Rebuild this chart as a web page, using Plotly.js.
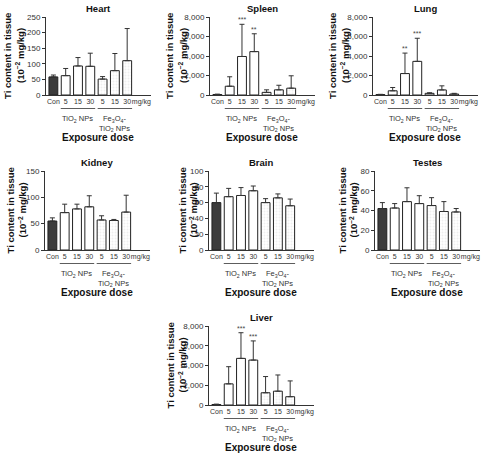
<!DOCTYPE html>
<html><head><meta charset="utf-8">
<script src="https://cdn.plot.ly/plotly-3.0.1.min.js"></script>
<style>html,body{margin:0;padding:0;background:#fff}#c{width:484px;height:453px}</style>
</head><body><div id="c"></div>
<script>
// ---- data ----
const categories = ['Con','5','15','30','5','15','30','mg/kg'];
const organs = ['Heart','Spleen','Lung','Kidney','Brain','Testes','Liver'];
const heartMean  = [58, 62, 93, 92, 51, 78, 110];
const heartSD    = [6, 23, 27, 42, 8, 55, 103];
const spleenMean = [50, 900, 3950, 4450, 270, 530, 700];
const spleenSD   = [40, 970, 3300, 1830, 260, 470, 1270];
const lungMean   = [40, 430, 2200, 3450, 170, 520, 100];
const lungSD     = [30, 340, 2100, 2370, 60, 420, 70];
const kidneyMean = [55, 71, 78, 82, 57, 56, 72];
const kidneySD   = [6, 16, 9, 21, 8, 2, 32];
const brainMean  = [60, 67.5, 69, 75, 60, 66, 56];
const brainSD    = [12, 10.5, 10, 6, 5, 5, 8.5];
const testesMean = [42, 42.5, 49, 47, 45, 39, 38.5];
const testesSD   = [6, 4.5, 14, 8, 8, 10, 3.5];
const liverMean  = [50, 2140, 4720, 4550, 1240, 1400, 840];
const liverSD    = [40, 1740, 2600, 1940, 1640, 1640, 1600];
const noStars     = ['', '', '', '', '', '', ''];
const spleenStars = ['', '', '***', '**', '', '', ''];
const lungStars   = ['', '', '**', '***', '', '', ''];
const liverStars  = ['', '', '***', '***', '', '', ''];
const yMax  = [250, 8000, 8000, 150, 100, 80, 8000];
const yStep = [50, 2000, 2000, 50, 20, 20, 2000];
const groupLabels = ['TiO<sub>2</sub> NPs', 'Fe<sub>3</sub>O<sub>4</sub>-<br>TiO<sub>2</sub> NPs'];

const means = [heartMean, spleenMean, lungMean, kidneyMean, brainMean, testesMean, liverMean];
const sds   = [heartSD, spleenSD, lungSD, kidneySD, brainSD, testesSD, liverSD];
const stars = [noStars, spleenStars, lungStars, noStars, noStars, noStars, liverStars];

// ---- layout geometry (pixels) ----
const W = 484, H = 453;
const pos = [
  {left:46,  top:17,  bottom:95,  t1:8,   t2:20},
  {left:210, top:17,  bottom:95,  t1:170, t2:183},
  {left:373, top:17,  bottom:95,  t1:333, t2:345},
  {left:45,  top:171, bottom:250, t1:10,  t2:22},
  {left:209, top:171, bottom:250, t1:182, t2:193},
  {left:375, top:171, bottom:250, t1:342, t2:353},
  {left:209, top:326, bottom:405, t1:170, t2:182}
];
const XR = [-0.6, 7.9];
const UNIT = 12.3;
const PW = (XR[1] - XR[0]) * UNIT;
const tickPos = [0, 1, 2, 3, 4, 5, 6, 7.15];
const fx = p => p / W;
const fy = p => 1 - p / H;
const FONT = 'Liberation Sans, Arial, sans-serif';

const barColors = ['#3c3c3c','#ffffff','#ffffff','#ffffff','#efefef','#efefef','#efefef'];
const patShapes = ['','','','','.','.','.'];

const data = [];
const layout = {
  width: W, height: H,
  margin: {l:0, r:0, t:0, b:0},
  paper_bgcolor: '#fff', plot_bgcolor: 'rgba(0,0,0,0)',
  showlegend: false,
  font: {family: FONT, size: 8, color: '#333'},
  annotations: [], shapes: []
};

organs.forEach((name, i) => {
  const k = i + 1;
  const xa = 'x' + (k === 1 ? '' : k), ya = 'y' + (k === 1 ? '' : k);
  const p = pos[i];
  const m = means[i], s = sds[i];
  data.push({
    type: 'bar', x: [0,1,2,3,4,5,6], y: m, width: 0.72,
    xaxis: xa, yaxis: ya,
    marker: {color: barColors, line: {color: '#222', width: 1},
      pattern: {shape: patShapes, fgcolor: '#8a8a8a', size: 3, solidity: 0.35}},
    error_y: {type: 'data', symmetric: false, array: s, arrayminus: s.map(() => 0),
      color: '#333', thickness: 1, width: 2.5},
    hoverinfo: 'skip'
  });
  const axKey = 'xaxis' + (k === 1 ? '' : k), ayKey = 'yaxis' + (k === 1 ? '' : k);
  layout[axKey] = {
    domain: [fx(p.left), fx(p.left + PW)], anchor: ya, range: XR,
    tickmode: 'array', tickvals: tickPos, ticktext: categories,
    tickangle: 0, ticklabeloverflow: 'allow',
    showline: true, linecolor: '#333', linewidth: 1, ticks: '', showgrid: false,
    zeroline: false, tickfont: {size: 7, color: '#333'}, fixedrange: true
  };
  layout[ayKey] = {
    domain: [fy(p.bottom), fy(p.top)], anchor: xa, range: [0, yMax[i]],
    tickmode: 'linear', tick0: 0, dtick: yStep[i], tickformat: ',d',
    showline: true, linecolor: '#333', linewidth: 1, ticks: 'outside', ticklen: 3,
    tickcolor: '#333', showgrid: false, zeroline: false,
    tickfont: {size: 8, color: '#333'}, fixedrange: true
  };
  const cx = fx(p.left + 52);
  // panel title
  layout.annotations.push({xref: 'paper', yref: 'paper', x: cx, y: fy(p.top - 8.5),
    text: '<b>' + name + '</b>', showarrow: false, xanchor: 'center', yanchor: 'middle',
    font: {size: 9.5, color: '#111'}});
  // y titles
  layout.annotations.push({xref: 'paper', yref: 'paper', x: fx(p.t1), y: fy((p.top + p.bottom) / 2),
    text: '<b>Ti content in tissue</b>', textangle: -90, showarrow: false,
    xanchor: 'center', yanchor: 'middle', font: {size: 9.5, color: '#111'}});
  layout.annotations.push({xref: 'paper', yref: 'paper', x: fx(p.t2), y: fy((p.top + p.bottom) / 2),
    text: '<b>(10<sup>−2</sup> mg/kg)</b>', textangle: -90, showarrow: false,
    xanchor: 'center', yanchor: 'middle', font: {size: 9.5, color: '#111'}});
  // x title
  layout.annotations.push({xref: 'paper', yref: 'paper', x: cx, y: fy(p.bottom + 42),
    text: '<b>Exposure dose</b>', showarrow: false, xanchor: 'center', yanchor: 'middle',
    font: {size: 10, color: '#111'}});
  // group underlines and labels
  [[0.6, 3.4, 2], [3.6, 6.4, 5]].forEach((g, j) => {
    layout.shapes.push({type: 'line', xref: xa, yref: 'paper', x0: g[0], x1: g[1],
      y0: fy(p.bottom + 13.5), y1: fy(p.bottom + 13.5), line: {color: '#333', width: 0.8}});
    layout.annotations.push({xref: xa, yref: 'paper', x: g[2], y: fy(p.bottom + 17),
      text: groupLabels[j], showarrow: false, xanchor: 'center', yanchor: 'top',
      font: {size: 7.5, color: '#333'}});
  });
  // significance stars
  stars[i].forEach((st, b) => {
    if (!st) return;
    layout.annotations.push({xref: xa, yref: ya, x: b, y: m[b] + s[b], text: st,
      showarrow: false, xanchor: 'center', yanchor: 'bottom', yshift: -1,
      font: {size: 7, color: '#444'}});
  });
});

Plotly.newPlot('c', data, layout, {staticPlot: true, displayModeBar: false});
</script>
</body></html>
